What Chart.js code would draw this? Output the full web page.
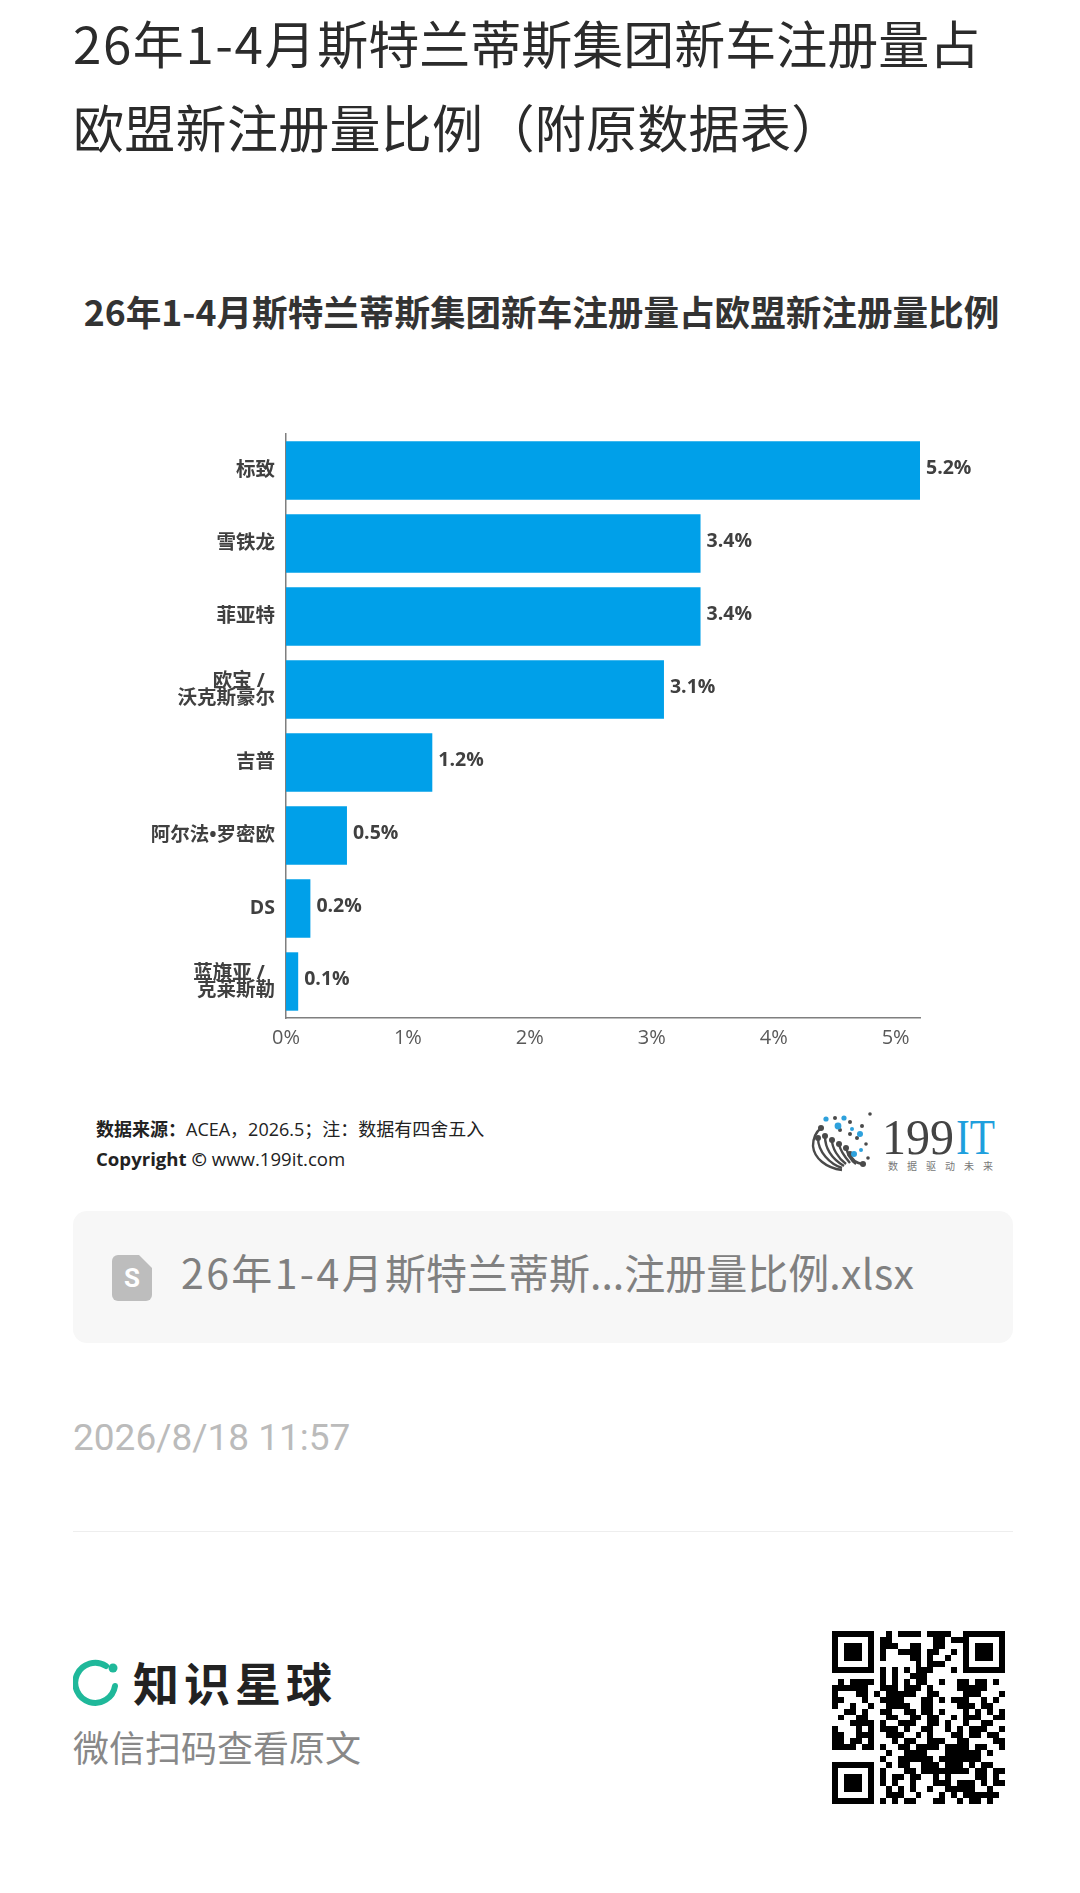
<!DOCTYPE html>
<html lang="zh"><head><meta charset="utf-8">
<script src="https://cdn.jsdelivr.net/npm/chart.js@4"></script>
<style>
html,body{margin:0;padding:0;background:#fff;width:1080px;height:1893px;overflow:hidden;font-family:"Noto Sans CJK SC","Noto Sans",sans-serif}
.a{position:absolute;white-space:nowrap;line-height:1}
#wrap{position:absolute;left:0;top:414px;width:1080px;height:646px}
</style></head><body>
<div class="a" style="left:73px;top:0;font-size:51px;line-height:84px;color:#2b2b2b;white-space:normal;width:960px"><span style="letter-spacing:1.6px">26年1-4月</span>斯特兰蒂斯集团新车注册量占<br><span style="letter-spacing:.3px">欧盟新注册量比例（附原数据表）</span></div>
<div class="a" style="left:0;width:1083px;text-align:center;top:293px;font-size:35.6px;font-weight:700;color:#333">26年1-4月斯特兰蒂斯集团新车注册量占欧盟新注册量比例</div>
<div id="wrap"><canvas id="c"></canvas></div>
<div class="a" style="left:96px;top:1120px;font-size:18px;color:#222;font-family:'Open Sans','Noto Sans CJK SC'"><b>数据来源：</b>ACEA，2026.5；注：数据有四舍五入</div>
<div class="a" style="left:96px;top:1150px;font-size:18.6px;color:#222;font-family:'Open Sans','Noto Sans CJK SC'"><b>Copyright ©</b> www.199it.com</div>
<svg class="a" style="left:810px;top:1108px" width="190" height="68" viewBox="0 0 190 68">
<g fill="none" stroke="#4a4a4a" stroke-width="2.4"><path d="M32 62C16 60 4 50 3 38C3 30 6 24 11 20"/><path d="M32 60C20 56 8 44 8 30"/><path d="M34 58C24 52 15 42 15 28"/><path d="M36 56C28 50 22 40 22 32"/><path d="M40 55C34 48 30 42 29 36"/><path d="M46 56C40 52 38 46 36 40"/><path d="M52 56C46 55 42 52 40 46"/></g>
<g fill="#4a4a4a"><circle cx="11" cy="20" r="3"/><circle cx="8" cy="30" r="3"/><circle cx="15" cy="28" r="3"/><circle cx="22" cy="32" r="3"/><circle cx="29" cy="36" r="3"/><circle cx="36" cy="40" r="3"/><circle cx="40" cy="46" r="3"/><circle cx="53" cy="56" r="3"/><circle cx="25" cy="10" r="2"/><circle cx="40" cy="14" r="2"/><circle cx="52" cy="18" r="2"/><circle cx="60" cy="6" r="1.8"/><circle cx="47" cy="30" r="2"/><circle cx="30" cy="22" r="2"/><circle cx="56" cy="36" r="1.8"/><circle cx="58" cy="50" r="1.8"/><circle cx="40" cy="26" r="2"/></g>
<g fill="#2ea1dc"><circle cx="16" cy="11" r="2.6"/><circle cx="34" cy="10" r="2.6"/><circle cx="28" cy="18" r="3.4"/><circle cx="42" cy="21" r="2"/><circle cx="50" cy="26" r="3"/><circle cx="44" cy="46" r="3"/><circle cx="51" cy="42" r="2"/></g>
<text x="72" y="46" font-family="Liberation Serif" font-size="50" fill="#444" textLength="72" lengthAdjust="spacingAndGlyphs">199</text>
<text x="146" y="46" font-family="Liberation Serif" font-size="50" fill="#1f9fdd" textLength="39" lengthAdjust="spacingAndGlyphs">IT</text>
<text x="78" y="62" font-family="Noto Sans CJK SC" font-size="10" fill="#777" textLength="105">数据驱动未来</text>
</svg>
<div class="a" style="left:73px;top:1211px;width:940px;height:132px;background:#f7f7f7;border-radius:14px"></div>
<svg class="a" style="left:112px;top:1255px" width="40" height="46" viewBox="0 0 40 46"><path d="M6 0H27L40 13V40a6 6 0 0 1-6 6H6a6 6 0 0 1-6-6V6a6 6 0 0 1 6-6z" fill="#bdbdbd"/><text x="20" y="32" text-anchor="middle" font-family="Roboto" font-weight="700" font-size="26" fill="#fff">S</text></svg>
<div class="a" style="left:181px;top:1251px;font-size:41px;color:#808080"><span style="letter-spacing:2.4px">26年1-4月</span>斯特兰蒂斯...注册量比例<span style="letter-spacing:.4px">.xlsx</span></div>
<div class="a" style="left:73px;top:1419px;font-size:37px;color:#bbb;font-family:Roboto,'Noto Sans CJK SC'">2026/8/18 11:57</div>
<div class="a" style="left:73px;top:1531px;width:940px;height:1px;background:#eee"></div>
<svg class="a" style="left:73px;top:1658px" width="46" height="48" viewBox="0 0 46 48"><path d="M33 8A20 20 0 1 0 42 28" fill="none" stroke="#1fb89a" stroke-width="6" stroke-linecap="round"/><circle cx="40" cy="10" r="4.5" fill="#1fb89a"/></svg>
<div class="a" style="left:133px;top:1658px;font-size:46px;font-weight:700;color:#222;letter-spacing:5px">知识星球</div>
<div class="a" style="left:73px;top:1728px;font-size:36px;color:#888">微信扫码查看原文</div>
<svg id="qr" class="a" style="left:832px;top:1631px" width="173" height="173" viewBox="0 0 29 29" shape-rendering="crispEdges"></svg>
<script>
const categories=[['标致'],['雪铁龙'],['菲亚特'],['欧宝 /  ','沃克斯豪尔'],['吉普'],['阿尔法•罗密欧'],['DS'],['蓝旗亚 /  ','克莱斯勒']];
const shareValues=[5.2,3.4,3.4,3.1,1.2,0.5,0.2,0.1];
const tickStep=1;
const axisMax=5.2;
const valueLabels={id:'valueLabels',afterDatasetsDraw(ch){
  const ctx=ch.ctx,meta=ch.getDatasetMeta(0);
  ctx.save();ctx.font='700 19.5px "Open Sans","Noto Sans"';ctx.fillStyle='#404040';ctx.textBaseline='middle';ctx.textAlign='left';
  meta.data.forEach((b,i)=>ctx.fillText(shareValues[i].toFixed(1)+'%',b.x+6,b.y-2));
  ctx.restore();
}};
new Chart(document.getElementById('c'),{type:'bar',
 data:{labels:categories,datasets:[{data:shareValues,backgroundColor:'#00A0E9',barPercentage:.8,categoryPercentage:1}]},
 options:{indexAxis:'y',responsive:true,maintainAspectRatio:false,animation:false,
  layout:{padding:{top:0,right:160,bottom:0,left:0}},
  plugins:{legend:{display:false},tooltip:{enabled:false}},
  scales:{
   x:{min:0,max:axisMax,grid:{display:false},border:{color:'#7f7f7f',width:1.5},
      afterFit(s){s.height=42},
      ticks:{stepSize:tickStep,includeBounds:false,maxRotation:0,padding:0,color:'#595959',font:{family:'"Open Sans"',size:20},callback:v=>v+'%'}},
   y:{grid:{display:false},border:{color:'#7f7f7f',width:1.5},
      afterFit(s){s.width=286},
      ticks:{padding:3,color:'#404040',autoSkip:false,font:{family:'"Open Sans","Noto Sans CJK SC"',size:19.5,weight:'700',lineHeight:.87}}}
  }},plugins:[valueLabels]});
const qrRows=[
"11111110010111101111001111111",
"10000010110000000110110000001".slice(0,22)+"1000001",
"10111010111001100110001011101",
"10111010100111101100101011101",
"10111010100001101001001011101",
"10000010000000101110001000001",
"11111110101010111000101111111",
"00000000101001110000000000000",
"01011110101010110010011011010",
"11111100111011101000011111000",
"10001101011111001100001110001",
"11000100111100011010111001010",
"10010010011110011000011101100",
"00110100110011011010001010101",
"01001100011001101100101110011",
"00011110100111001101001001100",
"10001010111010011001010111001",
"11001110011100101000110110110",
"11011010001011001110011000011",
"11110110100110111101111011001",
"00000000010011110001111110100",
"00000000100111111011111110000",
"11111110010110011101110101100",
"10000010100011011111111011011",
"10111010101101100101000011010",
"10111010101001000111011101011",
"10111010010101001001111100100",
"10000010011100100010101111110",
"11111110101011000110010110100"];
const qr=document.getElementById('qr');
qr.innerHTML=qrRows.map((r,y)=>[...r].map((c,x)=>c==='1'?`<rect x="${x}" y="${y}" width="1" height="1"/>`:'').join('')).join('');
</script>
</body></html>
